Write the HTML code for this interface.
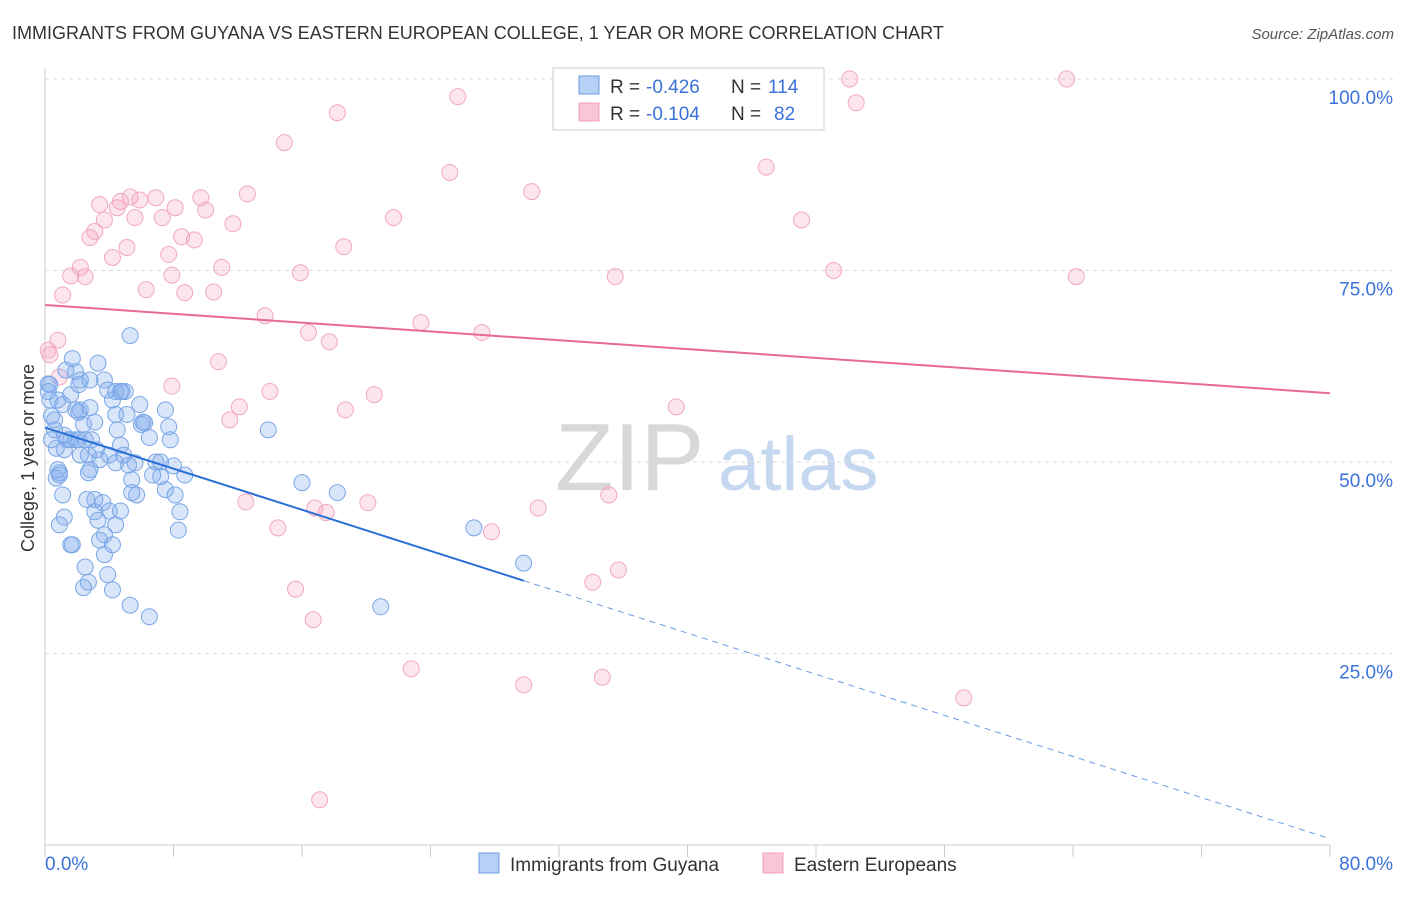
<!DOCTYPE html>
<html><head><meta charset="utf-8"><style>
body{margin:0;background:#fff;font-family:"Liberation Sans",sans-serif;}
svg text{font-family:"Liberation Sans",sans-serif;}
</style></head><body>
<svg id="chart" width="1406" height="892" xmlns="http://www.w3.org/2000/svg">
<text x="12" y="39" font-size="18" fill="#333">IMMIGRANTS FROM GUYANA VS EASTERN EUROPEAN COLLEGE, 1 YEAR OR MORE CORRELATION CHART</text>
<text x="1394" y="39" font-size="15" fill="#555" font-style="italic" text-anchor="end">Source: ZipAtlas.com</text>
<text x="34" y="458" font-size="18" fill="#333" text-anchor="middle" transform="rotate(-90 34 458)">College, 1 year or more</text>
<g><text x="555" y="490" font-size="96" fill="#d8d8d8" font-family="Liberation Serif">ZIP</text><text x="718" y="490" font-size="76" fill="#c5d8f0">atlas</text></g>
<g id="grid"></g><g id="pts"></g><g id="lines"></g>
<g>
<rect x="553" y="68" width="271" height="62" fill="#fff" stroke="#ccc"/>
<rect x="579" y="76" width="20" height="18" fill="#b7d0f5" stroke="#6a9be0"/>
<rect x="579" y="103" width="20" height="18" fill="#f9c6d6" stroke="#f0a0bc"/>
<text x="610" y="93" font-size="19" fill="#333">R =</text>
<text x="646" y="93" font-size="19" fill="#3b72d9">-0.426</text>
<text x="731" y="93" font-size="19" fill="#333">N =</text>
<text x="768" y="93" font-size="19" fill="#3b72d9">114</text>
<text x="610" y="120" font-size="19" fill="#333">R =</text>
<text x="646" y="120" font-size="19" fill="#3b72d9">-0.104</text>
<text x="731" y="120" font-size="19" fill="#333">N =</text>
<text x="774" y="120" font-size="19" fill="#3b72d9">82</text>
</g>
<g>
<rect x="479" y="853" width="20" height="20" fill="#b7d0f5" stroke="#6a9be0"/>
<text x="510" y="871" font-size="19" fill="#333">Immigrants from Guyana</text>
<rect x="763" y="853" width="20" height="20" fill="#f9c6d6" stroke="#f0a0bc"/>
<text x="794" y="871" font-size="19" fill="#333">Eastern Europeans</text>
</g>
</svg>
<script>
const yTicks=[25,50,75,100];
const xTickLabels=["0.0%","80.0%"];
const blueX=[0.2,0.3,0.4,0.6,0.7,0.9,1.1,1.2,1.6,1.4,1.7,1.9,2.1,2.2,2.4,2.5,2.7,2.8,3.1,3.3,3.4,3.7,3.9,4.2,2.5,2.7,2.4,2.9,3.2,3.4,3.7,3.9,4.2,4.4,4.5,4.7,4.9,5.2,5.4,5.7,4.4,5.0,5.3,5.9,6.2,6.5,6.9,7.2,7.5,7.8,8.1,8.4,8.7,5.3,6.5,8.3,7.5,7.7,3.3,2.8,1.3,1.6,1.9,1.2,0.7,0.9,1.7,4.0,4.4,4.7,3.6,13.9,16.0,18.2,20.9,26.7,29.8,4.7,5.1,5.6,6.0,6.7,4.0,4.4,0.8,1.2,1.9,2.2,2.7,1.1,0.6,0.3,0.2,0.4,0.8,1.6,2.1,2.6,3.1,3.7,4.2,4.8,5.4,7.2,8.0,6.1,2.1,3.1,0.9,2.2,2.8];
const blueY=[60.2,58.1,56.0,54.2,51.8,48.3,45.7,42.8,39.2,52.9,63.5,61.8,60.1,56.8,54.9,52.9,50.9,49.0,45.1,42.4,39.8,37.9,35.3,33.3,36.3,34.3,33.6,52.9,51.6,50.3,60.7,59.4,58.1,56.2,54.2,52.2,50.9,49.6,47.7,45.7,59.2,59.2,66.5,57.5,55.1,53.2,50.0,48.1,46.4,52.9,45.7,43.5,48.3,31.3,29.8,41.1,56.8,54.6,62.9,60.7,62.0,58.8,56.8,51.6,47.9,41.8,39.2,43.6,41.8,43.6,44.7,54.2,47.3,46.0,31.1,41.4,36.8,59.2,56.2,49.9,54.9,48.3,50.9,49.9,49.0,53.5,52.9,50.9,48.6,57.5,55.5,60.1,59.2,52.9,58.1,52.9,52.9,45.1,43.5,40.5,39.2,59.2,46.0,50.0,49.5,55.2,56.5,55.2,48.6,60.7,57.1];
const pinkX=[0.3,0.8,1.1,1.6,2.2,2.5,2.8,3.1,3.4,3.7,4.2,4.5,4.7,5.1,5.3,5.6,5.9,6.3,6.9,7.3,7.7,7.9,8.1,8.5,8.7,9.3,9.7,10.0,10.5,10.8,11.0,11.5,11.7,12.1,12.6,12.5,13.7,14.0,14.5,14.9,15.6,15.9,16.4,16.7,17.1,16.8,17.5,17.7,18.2,18.6,18.7,20.1,20.5,21.7,22.8,23.4,25.2,25.7,27.2,27.8,29.8,30.3,30.7,34.1,34.7,35.5,35.1,35.7,39.3,44.9,47.1,49.1,50.1,50.5,57.2,63.6,64.2,0.2,7.9,0.9];
const pinkY=[64.0,65.9,71.8,74.3,75.4,74.2,79.3,80.1,83.6,81.6,76.7,83.2,84.0,78.0,84.6,81.9,84.2,72.5,84.5,81.9,77.1,74.4,83.2,79.4,72.1,79.0,84.5,82.9,72.2,63.1,75.4,55.5,81.1,57.2,85.0,44.8,69.1,59.2,41.4,91.7,33.4,74.7,66.9,29.4,5.9,44.0,43.4,65.7,95.6,78.1,56.8,44.7,58.8,81.9,23.0,68.2,87.8,97.7,66.9,40.9,20.9,85.3,44.0,34.3,21.9,74.2,45.7,35.9,57.2,88.5,81.6,75.0,100.0,96.9,19.2,100.0,74.2,64.6,59.9,61.1];
const blueTrend=[54.5,-0.671];
const pinkTrend=[70.5,-0.144];
const L=45,R=1330,T=79,B=845;
const xs=v=>L+(v/80)*(R-L);
const ys=v=>B-(v/100)*(B-T);
const NS="http://www.w3.org/2000/svg";
function mk(tag,attrs,parent){const e=document.createElementNS(NS,tag);for(const k in attrs)e.setAttribute(k,attrs[k]);parent.appendChild(e);return e;}
const grid=document.getElementById('grid');
mk('line',{x1:L,y1:68,x2:L,y2:B,stroke:'#ccc'},grid);
mk('line',{x1:L,y1:B,x2:R,y2:B,stroke:'#ccc'},grid);
for(let i=0;i<=10;i++){const x=L+i*(R-L)/10;const t=mk('line',{x1:x,y1:B,x2:x,y2:B+12,stroke:'#ccc'},grid);

}
yTicks.forEach(v=>{const g=mk('line',{x1:L,y1:ys(v),x2:1395,y2:ys(v),stroke:'#ddd','stroke-dasharray':'4,4'},grid);


const t=mk('text',{x:1393,y:ys(v)+25,'font-size':19,fill:'#3b72d9','text-anchor':'end'},grid);t.textContent=v.toFixed(1)+'%';

});
const xl0=mk('text',{x:L,y:870,'font-size':19,fill:'#3b72d9'},grid);xl0.textContent=xTickLabels[0];


const xl1=mk('text',{x:1393,y:870,'font-size':19,fill:'#3b72d9','text-anchor':'end'},grid);xl1.textContent=xTickLabels[1];


const pts=document.getElementById('pts');
pinkX.forEach((x,i)=>{const c=mk('circle',{cx:xs(x),cy:ys(pinkY[i]),r:8,fill:'rgba(244,160,190,0.28)',stroke:'#f2a8c2','stroke-width':1},pts);

});
blueX.forEach((x,i)=>{const c=mk('circle',{cx:xs(x),cy:ys(blueY[i]),r:8,fill:'rgba(130,172,238,0.3)',stroke:'#7aa6e6','stroke-width':1},pts);

});
const ln=document.getElementById('lines');
const bEnd=29.8;
const b1=mk('line',{x1:xs(0),y1:ys(blueTrend[0]),x2:xs(bEnd),y2:ys(blueTrend[0]+blueTrend[1]*bEnd),stroke:'#2a6fd6','stroke-width':2},ln);


const b2=mk('line',{x1:xs(bEnd),y1:ys(blueTrend[0]+blueTrend[1]*bEnd),x2:xs(80),y2:ys(blueTrend[0]+blueTrend[1]*80),stroke:'#6a9be0','stroke-width':1,'stroke-dasharray':'6,5'},ln);


const p1=mk('line',{x1:xs(0),y1:ys(pinkTrend[0]),x2:xs(80),y2:ys(pinkTrend[0]+pinkTrend[1]*80),stroke:'#e8689a','stroke-width':2},ln);


</script>
</body></html>
